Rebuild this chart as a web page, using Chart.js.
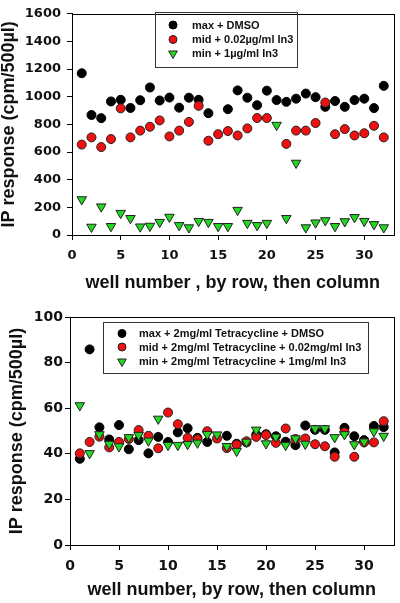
<!DOCTYPE html>
<html>
<head>
<meta charset="utf-8">
<script src="https://cdn.jsdelivr.net/npm/chart.js@4.4.0/dist/chart.umd.min.js"></script>
<style>
  html, body { margin: 0; padding: 0; background: #fff; }
  #wrap { position: relative; width: 400px; height: 603px; }
  canvas { position: absolute; left: 0; }
</style>
</head>
<body>
<div id="wrap">
  <canvas id="top" width="400" height="300" style="top:0"></canvas>
  <canvas id="bottom" width="400" height="303" style="top:300px"></canvas>
</div>
<script>
// well numbers 1..32
const wells = [1,2,3,4,5,6,7,8,9,10,11,12,13,14,15,16,17,18,19,20,21,22,23,24,25,26,27,28,29,30,31,32];

// top panel
const topLabels = ['max + DMSO', 'mid + 0.02µg/ml In3', 'min + 1µg/ml In3'];
const topMax = [1170,868,845,966,978,919,975,1067,973,994,921,993,978,881,null,910,1046,993,939,1044,976,963,986,1023,997,927,969,927,976,986,918,1079];
const topMid = [654,706,636,694,916,706,755,783,829,713,755,818,934,682,729,752,720,771,846,846,null,659,755,755,810,958,729,766,720,736,790,706];
const topMin = [257,58,205,63,158,121,60,65,93,130,70,54,100,93,63,63,180,86,70,86,795,121,521,54,89,105,63,98,128,100,77,54];
const topYTicks = [0,200,400,600,800,1000,1200,1400,1600];

// bottom panel (with tetracycline)
const botLabels = ['max + 2mg/ml Tetracycline + DMSO', 'mid + 2mg/ml Tetracycline + 0.02mg/ml In3', 'min + 2mg/ml Tetracycline + 1mg/ml In3'];
const botMax = [37.8,85.8,51.6,46.3,52.6,42.0,46.0,40.2,47.4,45.2,49.4,51.2,47.0,45.2,null,47.9,44.4,45.0,48.4,48.6,47.7,45.3,43.8,52.4,50.5,50.5,40.6,51.4,47.7,46.0,52.2,51.7];
const botMid = [40.2,45.2,47.5,42.8,45.2,46.5,50.4,47.9,42.4,58.1,53.0,47.0,46.4,49.9,46.7,42.5,44.0,45.5,47.4,48.2,44.8,51.1,46.5,46.7,44.2,43.3,38.7,49.5,38.7,45.0,45.0,54.3];
const botMin = [61.2,40.2,48.5,44.3,43.2,47.2,48.2,45.7,55.3,43.8,43.8,44.2,44.8,48.6,48.4,43.3,41.2,45.2,50.5,44.5,47.4,43.8,46.7,44.3,51.1,51.1,47.2,48.5,44.1,45.3,49.8,47.8];
const botYTicks = [0,20,40,60,80,100];

const xTicks = [0,5,10,15,20,25,30];

const FONT = '"Liberation Sans", Arial, sans-serif';
const TICKFONT = '"DejaVu Sans", sans-serif';
const RED = '#f01010';
const GREEN = '#22d822';

function pts(ys) {
  return wells.map((w, i) => ({ x: w, y: ys[i] }));
}

function makeSets(labels, a, b, c) {
  return [
    { label: labels[0], data: pts(a), pointStyle: 'circle', pointRadius: 4.5, backgroundColor: '#000', borderColor: '#000', borderWidth: 1, order: 3 },
    { label: labels[1], data: pts(b), pointStyle: 'circle', pointRadius: 4.5, backgroundColor: RED, borderColor: '#222', borderWidth: 1, order: 2 },
    { label: labels[2], data: pts(c), pointStyle: 'triangle', rotation: 180, pointRadius: 5.5, backgroundColor: GREEN, borderColor: '#222', borderWidth: 1, order: 1 }
  ];
}

// box around plot + legend inside it
const framePlugin = {
  id: 'frame',
  afterDraw(chart, args, opts) {
    const ctx = chart.ctx;
    const a = chart.chartArea;
    ctx.save();
    ctx.strokeStyle = '#000';
    ctx.lineWidth = 1;
    ctx.strokeRect(Math.round(a.left) + 0.5, Math.round(a.top) + 0.5, Math.round(a.right - a.left), Math.round(a.bottom - a.top));

    const b = opts.box;
    ctx.strokeStyle = '#333';
    ctx.strokeRect(b.x + 0.5, b.y + 0.5, b.w, b.h);
    ctx.font = 'bold 11px ' + FONT;
    ctx.textBaseline = 'middle';
    chart.data.datasets.forEach((ds, i) => {
      const y = b.rows[i];
      ctx.fillStyle = ds.backgroundColor;
      ctx.strokeStyle = ds.borderColor;
      ctx.lineWidth = 1;
      Chart.helpers.drawPoint(ctx, { pointStyle: ds.pointStyle, rotation: ds.rotation || 0, radius: ds.pointRadius - 0.5, borderWidth: 1 }, b.mx, y);
      ctx.fillStyle = '#111';
      ctx.fillText(ds.label, b.tx, y + 0.5);
    });
    ctx.restore();
  }
};

function tickFont(size) {
  return { family: TICKFONT, size: size, weight: 'bold' };
}
const titleFont = { family: FONT, size: 18, weight: 'bold', lineHeight: 1 };

function makeChart(id, sets, yMax, yTicks, cfg) {
  return new Chart(document.getElementById(id), {
    type: 'scatter',
    data: { datasets: sets },
    options: {
      responsive: false,
      animation: false,
      devicePixelRatio: 1,
      layout: { padding: cfg.padding },
      plugins: { legend: { display: false }, tooltip: { enabled: false }, frame: { box: cfg.box } },
      scales: {
        x: {
          type: 'linear', min: 0, max: 33,
          afterFit: s => { s.height = cfg.xHeight; },
          afterBuildTicks: s => { s.ticks = xTicks.map(v => ({ value: v })); },
          grid: { drawOnChartArea: false, drawTicks: true, tickLength: 5, color: '#000' },
          border: { color: '#000', width: 1 },
          ticks: { color: '#111', font: tickFont(cfg.tickSize), padding: cfg.xPad, maxRotation: 0, callback: v => String(v) },
          title: { display: true, text: cfg.xTitle, color: '#111', font: titleFont, padding: { top: 0, bottom: cfg.xTitlePad } }
        },
        y: {
          type: 'linear', min: 0, max: yMax,
          afterFit: s => { s.width = cfg.yWidth; },
          afterBuildTicks: s => { s.ticks = yTicks.map(v => ({ value: v })); },
          grid: { drawOnChartArea: false, drawTicks: true, tickLength: 5, color: '#000' },
          border: { color: '#000', width: 1 },
          ticks: { color: '#111', font: tickFont(cfg.tickSize), padding: cfg.yPad, callback: v => String(v) },
          title: { display: true, text: 'IP response (cpm/500µl)', color: '#111', font: titleFont, padding: { top: cfg.yTitlePad, bottom: 0 } }
        }
      }
    },
    plugins: [framePlugin]
  });
}

makeChart('top', makeSets(topLabels, topMax, topMid, topMin), 1600, topYTicks, {
  padding: { top: 7, right: 1, left: 0, bottom: 0 },
  xHeight: 65, yWidth: 72, tickSize: 13, xPad: 8, yPad: 6,
  xTitle: 'well number , by row, then column', xTitlePad: 8, yTitlePad: 0,
  box: { x: 155, y: 12, w: 142, h: 55, mx: 173, tx: 192, rows: [25, 39.5, 53.5] }
});

makeChart('bottom', makeSets(botLabels, botMax, botMid, botMin), 100, botYTicks, {
  padding: { top: 17, right: 3, left: 0, bottom: 0 },
  xHeight: 58, yWidth: 70, tickSize: 14, xPad: 8, yPad: 2,
  xTitle: 'well number, by row, then column', xTitlePad: 4, yTitlePad: 8,
  box: { x: 103, y: 22, w: 265, h: 51, mx: 122, tx: 139, rows: [33.5, 47, 61.5] }
});
</script>
</body>
</html>
